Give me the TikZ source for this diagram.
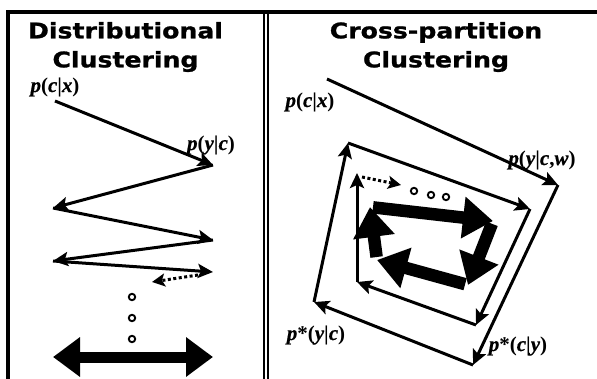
\documentclass[tikz,border=0pt]{standalone}
\usepackage{fontspec}
\setmainfont{Liberation Serif}[BoldItalicFeatures={FakeBold=0.6}]
\newfontfamily\headfont{DejaVu Sans}[BoldFeatures={FakeBold=1.1,FakeStretch=1.17}]
\usetikzlibrary{arrows.meta}

\tikzset{
  thinarr/.style={line width=3pt,-{Stealth[length=15pt,width=14pt,inset=3pt]}},
  fatarr/.style={line width=12.5pt,-{Triangle[length=30pt,width=40pt]}},
  dotarr/.style={line width=3pt,dash pattern=on 3pt off 2.5pt,-{Stealth[length=13pt,width=13pt,inset=3pt]}},
  headtxt/.style={font=\headfont\bfseries\fontsize{21.5}{29}\selectfont,align=center,inner sep=0pt},
  prob/.style={font=\bfseries\fontsize{21}{22}\selectfont,inner sep=0pt},
  ring/.style={line width=1.9pt,draw=black,fill=white}
}
\newcommand{\iv}[1]{\textit{#1}}

\begin{document}
\begin{tikzpicture}[line cap=butt,line join=miter,x=1pt,y=-1pt]
  \useasboundingbox (0,0) rectangle (597,379);
  % frame
  \draw [line width=3.5pt] (8,379) -- (8,12) -- (597,12);
  \draw [line width=2.3pt] (264,13.5) -- (264,379);
  \draw [line width=2.3pt] (268,13.5) -- (268,379);

  % titles
  \node [headtxt] (dtitle) at (125.5,47) {Distributional\\Clustering};
  \node [headtxt] (xtitle) at (436,47) {Cross-partition\\Clustering};

  % distributional clustering: zig-zag
  \coordinate (l1) at (55,101);
  \coordinate (l2) at (213,165);
  \coordinate (l3) at (53,208);
  \coordinate (l4) at (213,240);
  \coordinate (l5) at (53,261);
  \coordinate (l6) at (213,272);
  \coordinate (ldot1) at (198,275);
  \coordinate (ldot2) at (152,282);
  \coordinate (lfat1) at (53,357);
  \coordinate (lfat2) at (213,357);
  \draw [thinarr] (l1) -- (l2);
  \draw [thinarr] (l2) -- (l3);
  \draw [thinarr] (l3) -- (l4);
  \draw [thinarr] (l4) -- (l5);
  \draw [thinarr] (l5) -- (l6);
  \draw [dotarr] (ldot1) -- (ldot2);
  \foreach \y in {297,318,339}
    \draw [ring] (132,\y) circle (3.2pt);
  \draw [line width=11pt,{Triangle[length=27pt,width=38pt]}-{Triangle[length=27pt,width=38pt]}] (lfat1) -- (lfat2);

  \node [prob] (pcx) at (55,87) {\iv{p}(\iv{c}|\iv{x})};
  \node [prob] (pyc) at (211,145) {\iv{p}(\iv{y}|\iv{c})};

  % cross-partition clustering: spiral
  \coordinate (r1) at (327,79);
  \coordinate (r2) at (558,185);
  \coordinate (r3) at (473,365);
  \coordinate (r4) at (314,302);
  \coordinate (r5) at (348,143);
  \coordinate (r6) at (530,209);
  \coordinate (r7) at (476,325);
  \coordinate (r8) at (357,282);
  \coordinate (r9) at (357,173);
  \coordinate (rdot1) at (362,177);
  \coordinate (rdot2) at (401,185);
  \draw [thinarr] (r1) -- (r2);
  \draw [thinarr] (r2) -- (r3);
  \draw [thinarr] (r3) -- (r4);
  \draw [thinarr] (r4) -- (r5);
  \draw [thinarr] (r5) -- (r6);
  \draw [thinarr] (r6) -- (r7);
  \draw [thinarr] (r7) -- (r8);
  \draw [thinarr] (r8) -- (r9);
  \draw [dotarr] (rdot1) -- (rdot2);
  \draw [ring] (414,191) circle (3.2pt);
  \draw [ring] (431,195) circle (3.2pt);
  \draw [ring] (446,197) circle (3.2pt);

  % fixed point loop
  \coordinate (fa) at (370,207);
  \coordinate (fb) at (493,221);
  \coordinate (fc) at (468,285);
  \coordinate (fd) at (377,260);
  \draw [fatarr,shorten <=3pt] (fa) -- (fb);
  \draw [fatarr,shorten <=3pt] (fb) -- (fc);
  \draw [fatarr,shorten <=3pt] (fc) -- (fd);
  \draw [fatarr,shorten <=3pt] (fd) -- (fa);

  \node [prob] (rpcx) at (310,102) {\iv{p}(\iv{c}|\iv{x})};
  \node [prob] (rpycw) at (542,160) {\iv{p}(\iv{y}|\iv{c},\iv{w})};
  \node [prob] (rpsyc) at (316,335) {\iv{p}*(\iv{y}|\iv{c})};
  \node [prob] (rpscy) at (518,346) {\iv{p}*(\iv{c}|\iv{y})};
\end{tikzpicture}
\end{document}
